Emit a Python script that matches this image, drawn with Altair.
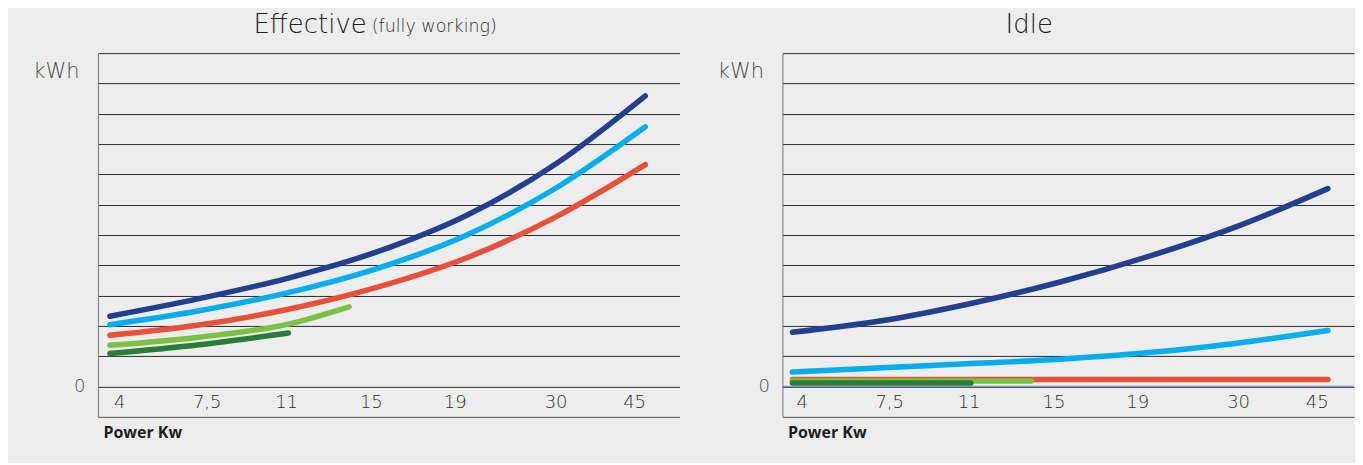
import altair as alt
import pandas as pd

# ---- data ----
power_labels = ["4", "7,5", "11", "15", "19", "30", "45"]
label_pos = [0.11, 1.09, 1.98, 2.93, 3.87, 5.0, 5.88]   # where each tick label sits on the x scale
y_ticks = [0, 1, 2, 3, 4, 5, 6, 7, 8, 9, 10, 11]

series_names = ["S1", "S2", "S3", "S4", "S5"]
series_colors = ["#233f8f", "#00adee", "#e8503a", "#7cc142", "#2b7b3a"]

x_full = [0, 1, 2, 3, 4, 5, 6]
x_s4 = [0, 1, 2, 2.68]
x_s5 = [0, 1, 2]

eff_s1 = [2.32, 2.90, 3.58, 4.45, 5.65, 7.35, 9.59]
eff_s2 = [2.04, 2.50, 3.10, 3.90, 5.00, 6.55, 8.57]
eff_s3 = [1.69, 2.03, 2.55, 3.28, 4.25, 5.60, 7.32]
eff_s4 = [1.36, 1.63, 2.06, 2.63]
eff_s5 = [1.09, 1.38, 1.77]

idle_s1 = [1.79, 2.17, 2.74, 3.45, 4.30, 5.30, 6.53]
idle_s2 = [0.48, 0.62, 0.76, 0.90, 1.12, 1.44, 1.85]
idle_s3 = [0.23, 0.23, 0.23, 0.23, 0.23, 0.23, 0.23]
idle_s4 = [0.18, 0.18, 0.18, 0.18]
idle_s5 = [0.12, 0.12, 0.12]


def frame(vals):
    xs = [x_full, x_full, x_full, x_s4, x_s5]
    rows = []
    for name, xv, yv in zip(series_names, xs, vals):
        for a, b in zip(xv, yv):
            rows.append({"x": a, "kwh": b, "series": name})
    return pd.DataFrame(rows)


eff_df = frame([eff_s1, eff_s2, eff_s3, eff_s4, eff_s5])
idle_df = frame([idle_s1, idle_s2, idle_s3, idle_s4, idle_s5])
labels_df = pd.DataFrame({"pos": label_pos, "label": power_labels})

FONT = "Open Sans"
TFONT = "DejaVu Sans"
BG = "#ededed"

yaxis = alt.Axis(
    values=y_ticks, grid=True, gridColor="#2b2b2b", gridWidth=1,
    domainColor="#777777", ticks=False, title=None,
    labelExpr="datum.value == 0 ? '0' : (datum.value == 11 ? 'kWh' : '')",
    labelFont=TFONT, labelFontWeight=200, labelColor="#4a4a4a",
    labelFontSize={"condition": {"test": "datum.value == 11", "value": 21}, "value": 18},
    labelOffset={"condition": {"test": "datum.value == 11", "value": 18}, "value": 0},
    labelPadding={"condition": {"test": "datum.value == 11", "value": 19}, "value": 13},
    labelOverlap=False, minExtent=85,
)
xaxis = alt.Axis(
    title="Power Kw", labels=False, ticks=False, grid=False,
    domainColor="#555555", titleFont=FONT, titleFontWeight="bold",
    titleFontSize=16, titleColor="#1e1e1e", titleAnchor="start",
    titleAlign="left", titleX=5, titleBaseline="top", titlePadding=8,
)


def panel(df, xdomain, width, title_main, title_sub, title_x, zero_color):
    xs = alt.Scale(domain=xdomain, nice=False, zero=False)
    ys = alt.Scale(domain=[-1, 11], nice=False, zero=False)

    lines = alt.Chart(df).mark_line(
        strokeWidth=5.5, strokeCap="round", interpolate="monotone"
    ).encode(
        x=alt.X("x:Q", scale=xs, axis=xaxis),
        y=alt.Y("kwh:Q", scale=ys, axis=yaxis),
        color=alt.Color("series:N", scale=alt.Scale(domain=series_names, range=series_colors), legend=None),
        order=alt.Order("x:Q"),
    )
    ticks_txt = alt.Chart(labels_df).mark_text(
        font=TFONT, fontWeight=200, fontSize=18, color="#2e2e2e", baseline="middle"
    ).encode(
        x=alt.X("pos:Q", scale=xs, axis=xaxis),
        y=alt.datum(-0.55, scale=ys, axis=yaxis),
        text="label:N",
    )

    layers = []
    if zero_color:
        zero = alt.Chart(pd.DataFrame({"z": [0]})).mark_rule(color=zero_color, strokeWidth=1.5).encode(
            y=alt.Y("z:Q", scale=ys, axis=yaxis)
        )
        layers.append(zero)
    layers += [lines, ticks_txt]

    if title_sub:
        t1 = alt.Chart(pd.DataFrame({"t": [title_main]})).mark_text(
            font=TFONT, fontWeight=200, fontSize=26, color="#222222", align="right", baseline="alphabetic"
        ).encode(x=alt.value(title_x), y=alt.value(-20), text="t:N")
        t2 = alt.Chart(pd.DataFrame({"t": [title_sub]})).mark_text(
            font=TFONT, fontWeight=200, fontSize=17.5, color="#333333", align="left", baseline="alphabetic"
        ).encode(x=alt.value(title_x + 5), y=alt.value(-21), text="t:N")
        layers += [t1, t2]
    else:
        t1 = alt.Chart(pd.DataFrame({"t": [title_main]})).mark_text(
            font=TFONT, fontWeight=200, fontSize=26, color="#222222", align="center", baseline="alphabetic"
        ).encode(x=alt.value(title_x), y=alt.value(-20), text="t:N")
        layers.append(t1)

    return alt.layer(*layers).properties(width=width, height=364)


left = panel(eff_df, [-0.134, 6.383], 582, "Effective", "(fully working)", 269, None)
right = panel(idle_df, [-0.112, 6.293], 572, "Idle", None, 247, "#8794c4")

chart = alt.hconcat(left, right, spacing=18).properties(
    background=BG,
    padding={"left": 5, "top": 4, "right": 0, "bottom": 22},
).configure_view(stroke=None)

chart.save("out.html", embed_options={"renderer": "svg", "actions": False})
